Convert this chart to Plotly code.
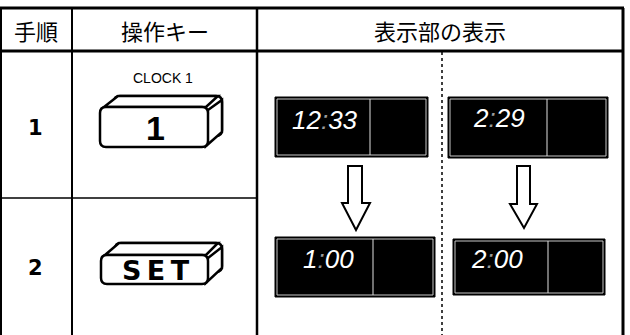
import plotly.graph_objects as go

# ---- content (text data) ----
headers = ["手順", "操作キー", "表示部の表示"]
steps = ["1", "2"]
key_captions = ["CLOCK 1", ""]
key_labels = ["1", "SET"]
display_clock1 = ["12:33", "1:00"]   # left column: before -> after
display_clock2 = ["2:29", "2:00"]    # right column: before -> after

W, H = 630, 335
fig = go.Figure()
fig.add_trace(go.Scatter(x=[], y=[], showlegend=False))

shapes = []
ann = []
BLACK = "#000000"


def line(x0, y0, x1, y1, w=2, dash="solid", color=BLACK):
    shapes.append(dict(type="line", x0=x0, y0=y0, x1=x1, y1=y1, xref="x", yref="y",
                       line=dict(color=color, width=w, dash=dash), layer="above"))


def path(d, fill="white", w=2, color=BLACK):
    shapes.append(dict(type="path", path=d, xref="x", yref="y", fillcolor=fill,
                       line=dict(color=color, width=w), layer="above"))


def rrect(x0, y0, x1, y1, r):
    return (f"M{x0+r},{y0} L{x1-r},{y0} Q{x1},{y0} {x1},{y0+r} L{x1},{y1-r} "
            f"Q{x1},{y1} {x1-r},{y1} L{x0+r},{y1} Q{x0},{y1} {x0},{y1-r} "
            f"L{x0},{y0+r} Q{x0},{y0} {x0+r},{y0} Z")


def text(x, y, s, size, family="Liberation Sans", color=BLACK, weight="normal"):
    ann.append(dict(x=x, y=y, xref="x", yref="y", text=s, showarrow=False,
                    xanchor="center", yanchor="middle",
                    font=dict(size=size, family=family, color=color, weight=weight)))


# ---- table frame ----
line(0, 8, 624, 8, 3)            # top
line(0, 51, 624, 51, 3)          # header bottom
line(1, 8, 1, 335, 2)            # left
line(623, 8, 623, 335, 3)        # right
line(72, 8, 72, 335, 2)          # col divider 1
line(257, 8, 257, 335, 2.5)      # col divider 2
line(0, 198, 257, 198, 1.5)      # row separator
line(442, 52, 442, 335, 1.5, dash="dot")  # centre dotted line

# ---- headers ----
hx = [36, 164.5, 440]
for x, s in zip(hx, headers):
    text(x, 30, s, 22, family="Noto Sans CJK JP")

# ---- step numbers ----
for y, s in zip([128, 268], steps):
    text(35, y, s, 21, family="DejaVu Sans", weight="bold")


# ---- keys ----
def key(fx0, fy0, fx1, fy1, dx, dy):
    bx0, by0, bx1, by1 = fx0 + dx, fy0 - dy, fx1 + dx, fy1 - dy
    path(rrect(bx0, by0, bx1, by1, 6), w=2.5)
    # top face
    path(f"M{fx0+4},{fy0} L{bx0+4},{by0} L{bx1-4},{by0} L{fx1-2},{fy0} Z", w=2.5)
    # right face
    path(f"M{fx1},{fy0+3} L{bx1},{by0+4} L{bx1},{by1-4} L{fx1-2},{fy1-1} Z", w=2.5)
    path(rrect(fx0, fy0, fx1, fy1, 6), w=2.5)


key(100, 107, 208, 147, 14, 11)
key(101, 255, 208, 284, 14, 12)
text(163, 78, key_captions[0], 14)
text(155, 128, key_labels[0], 34, family="Liberation Sans", weight="bold")
text(156, 270, "\u2009".join(key_labels[1]), 27, family="DejaVu Sans", weight="bold")


# ---- displays ----
def digits(s):
    if ":" in s:
        a, b = s.split(":")
        return f"<i>{a}<span style='color:#9a9a9a'>:</span>{b}</i>"
    return f"<i>{s}</i>"


def display(x0, y0, x1, y1, xd, s, tx, ty):
    shapes.append(dict(type="rect", x0=x0, y0=y0, x1=x1, y1=y1, xref="x", yref="y",
                       fillcolor=BLACK, line=dict(color=BLACK, width=1), layer="above"))
    shapes.append(dict(type="rect", x0=x0 + 2, y0=y0 + 2, x1=x1 - 2, y1=y1 - 2,
                       xref="x", yref="y", fillcolor="rgba(0,0,0,0)",
                       line=dict(color="#c8c8c8", width=1), layer="above"))
    line(xd, y0 + 2, xd, y1 - 2, 1, color="#e0e0e0")
    text(tx, ty, digits(s), 26, family="Liberation Sans Narrow, Liberation Sans", color="white")


display(275, 97, 428, 157, 370, display_clock1[0], 325, 120)
display(448, 97, 608, 158, 547, display_clock2[0], 499, 118)
display(275, 237, 435, 297, 373, display_clock1[1], 328, 259)
display(453, 239, 605, 295, 548, display_clock2[1], 497, 259)

# ---- arrows ----
path("M348,166 L362,166 L362,203 L370,203 L356,230 L342,203 L348,203 Z", w=2)
path("M517,166 L530,166 L530,204 L537,204 L524,228 L510,204 L517,204 Z", w=2)

fig.update_layout(
    width=W, height=H, margin=dict(l=0, r=0, t=0, b=0),
    paper_bgcolor="white", plot_bgcolor="white",
    xaxis=dict(range=[0, W], visible=False, fixedrange=True),
    yaxis=dict(range=[H, 0], visible=False, fixedrange=True),
    shapes=shapes, annotations=ann, showlegend=False,
)
fig.write_html("out.html", config={"displayModeBar": False, "staticPlot": True},
               post_script="document.body.style.margin='0';")
